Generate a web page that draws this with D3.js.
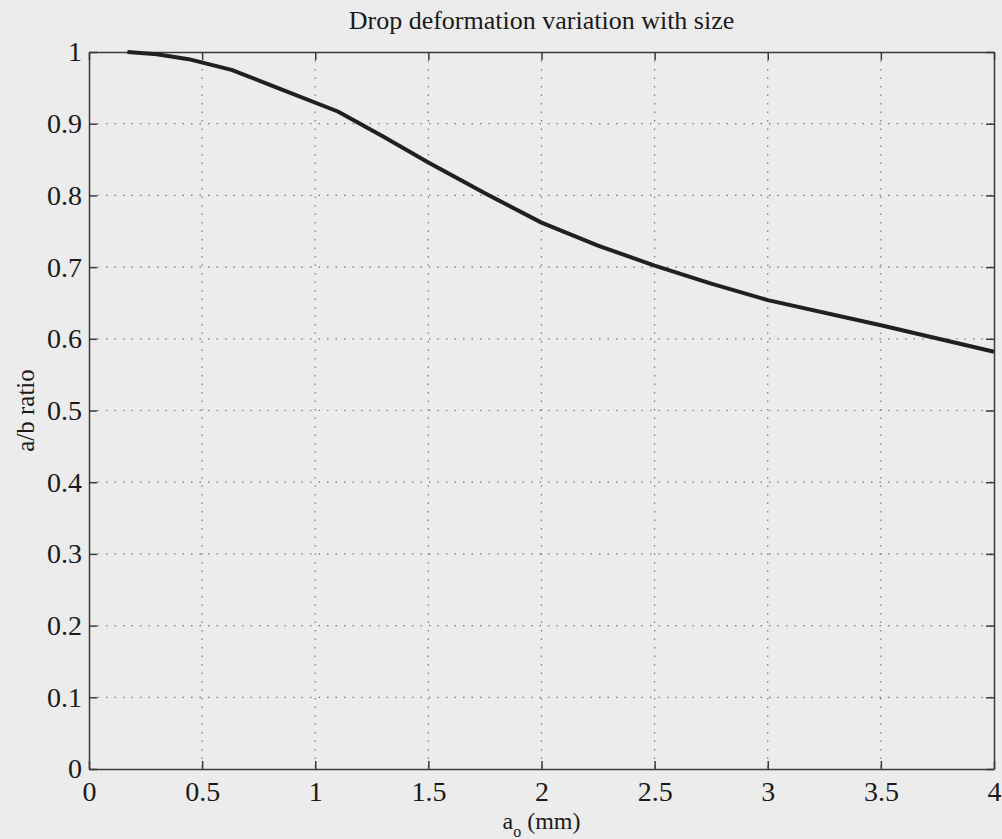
<!DOCTYPE html>
<html>
<head>
<meta charset="utf-8">
<script src="https://cdn.jsdelivr.net/npm/d3@7"></script>
<style>
  body { margin: 0; background: #ececec; }
  svg { display: block; }
</style>
</head>
<body>
<div id="chart"></div>
<script>
const width = 1002;
const height = 839;
const marginTop = 52;
const marginBottom = 70;
const marginRight = 8;
const marginLeft = 89;

// drop radius a_o (mm) and the a/b ratio
const radius = [0.17, 0.3, 0.44, 0.63, 0.85, 1.1, 1.3, 1.5, 1.75, 2.0, 2.25, 2.5, 2.75, 3.0, 3.5, 4.0];
const ratio = [1.0, 0.997, 0.99, 0.975, 0.948, 0.917, 0.882, 0.846, 0.803, 0.762, 0.73, 0.702, 0.677, 0.654, 0.619, 0.582];

const xTicks = [0, 0.5, 1, 1.5, 2, 2.5, 3, 3.5, 4];
const yTicks = [0, 0.1, 0.2, 0.3, 0.4, 0.5, 0.6, 0.7, 0.8, 0.9, 1];

const data = radius.map((r, i) => ({ r: r, v: ratio[i] }));

const svg = d3.select('#chart')
    .append('svg')
    .attr('width', width)
    .attr('height', height);

const x = d3.scaleLinear()
    .domain([0, 4])
    .range([marginLeft, width - marginRight]);

const y = d3.scaleLinear()
    .domain([0, 1])
    .range([height - marginBottom, marginTop]);

const font = "'Liberation Serif', 'Times New Roman', serif";
const ink = '#3a3a3a';

// dotted grid
svg.append('g')
    .selectAll('line')
    .data(xTicks.slice(1, -1))
    .enter()
    .append('line')
    .attr('x1', (d) => x(d))
    .attr('x2', (d) => x(d))
    .attr('y1', y(1))
    .attr('y2', y(0))
    .attr('stroke', '#777')
    .attr('stroke-width', 1.2)
    .attr('stroke-dasharray', '1.5,7');

svg.append('g')
    .selectAll('line')
    .data(yTicks.slice(1, -1))
    .enter()
    .append('line')
    .attr('x1', x(0))
    .attr('x2', x(4))
    .attr('y1', (d) => y(d))
    .attr('y2', (d) => y(d))
    .attr('stroke', '#777')
    .attr('stroke-width', 1.2)
    .attr('stroke-dasharray', '1.5,7');

// axes with inward ticks, MATLAB box style
const fmt = (d) => d3.format('')(d);

svg.append('g')
    .attr('class', 'xAxis')
    .attr('transform', `translate(0,${y(0)})`)
    .call(d3.axisBottom(x).tickValues(xTicks).tickFormat(fmt).tickSizeInner(-8).tickSizeOuter(0).tickPadding(12));

svg.append('g')
    .attr('class', 'xAxisTop')
    .attr('transform', `translate(0,${y(1)})`)
    .call(d3.axisTop(x).tickValues(xTicks).tickFormat('').tickSizeInner(-8).tickSizeOuter(0));

svg.append('g')
    .attr('class', 'yAxis')
    .attr('transform', `translate(${x(0)},0)`)
    .call(d3.axisLeft(y).tickValues(yTicks).tickFormat(fmt).tickSizeInner(-8).tickSizeOuter(0).tickPadding(7));

svg.append('g')
    .attr('class', 'yAxisRight')
    .attr('transform', `translate(${x(4)},0)`)
    .call(d3.axisRight(y).tickValues(yTicks).tickFormat('').tickSizeInner(-8).tickSizeOuter(0));

svg.selectAll('.domain, .tick line')
    .attr('stroke', ink)
    .attr('stroke-width', 1.5);

svg.selectAll('.xAxis text, .yAxis text')
    .style('font-family', font)
    .style('font-size', '28px')
    .attr('fill', '#1a1a1a');

// curve
const line = d3.line()
    .x((d) => x(d.r))
    .y((d) => y(d.v));

svg.append('path')
    .datum(data)
    .attr('d', line)
    .attr('fill', 'none')
    .attr('stroke', '#202020')
    .attr('stroke-width', 4)
    .attr('stroke-linejoin', 'round');

// labels
svg.append('text')
    .attr('class', 'title')
    .attr('x', (x(0) + x(4)) / 2)
    .attr('y', 29)
    .text('Drop deformation variation with size')
    .style('font-size', '26px')
    .style('text-anchor', 'middle')
    .style('font-family', font)
    .attr('fill', '#1a1a1a');

const xlabel = svg.append('text')
    .attr('class', 'xlabel')
    .attr('x', (x(0) + x(4)) / 2)
    .attr('y', 829)
    .style('font-size', '24px')
    .style('text-anchor', 'middle')
    .style('font-family', font)
    .attr('fill', '#1a1a1a');
xlabel.append('tspan').text('a');
xlabel.append('tspan').text('o').attr('dy', 8).style('font-size', '16px');
xlabel.append('tspan').text(' (mm)').attr('dy', -8);

svg.append('text')
    .attr('class', 'ylabel')
    .attr('x', -(y(0) + y(1)) / 2)
    .attr('y', 34)
    .text('a/b ratio')
    .attr('transform', 'rotate(-90)')
    .style('font-size', '25px')
    .style('text-anchor', 'middle')
    .style('font-family', font)
    .attr('fill', '#1a1a1a');
</script>
</body>
</html>
